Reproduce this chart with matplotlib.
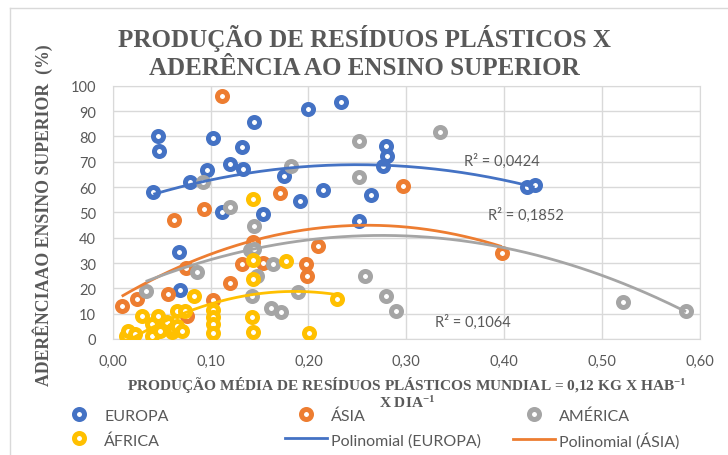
import matplotlib.pyplot as plt
import numpy as np
from matplotlib.lines import Line2D

# Produção de resíduos plásticos (kg/hab/dia) x aderência ao ensino superior (%)
europa_x = [0.0415, 0.0466, 0.0476, 0.0677, 0.0687, 0.079, 0.0966, 0.1027, 0.1112,
            0.1197, 0.1316, 0.1333, 0.1442, 0.1537, 0.175, 0.191, 0.1996, 0.2149,
            0.2337, 0.2513, 0.264, 0.276, 0.2796, 0.28, 0.4235, 0.431]
europa_y = [57.9, 80.3, 74.3, 34.2, 19.5, 61.9, 66.8, 79.2, 50.0,
            69.1, 75.7, 67.1, 85.5, 49.3, 64.5, 54.6, 90.8, 58.8,
            93.7, 46.7, 56.9, 68.2, 76.0, 72.1, 59.9, 60.8]

asia_x = [0.0092, 0.0251, 0.057, 0.0626, 0.0755, 0.0748, 0.0935, 0.1027, 0.1119,
          0.1197, 0.1316, 0.1435, 0.1537, 0.1707, 0.1973, 0.198, 0.2098, 0.2966, 0.3976]
asia_y = [13.2, 15.8, 17.8, 47.0, 9.2, 27.9, 51.3, 15.5, 96.1,
          22.0, 29.6, 38.2, 30.0, 57.6, 29.6, 24.8, 36.8, 60.3, 34.0]

america_x = [0.0337, 0.0857, 0.0925, 0.1197, 0.1405, 0.1442, 0.1442, 0.1428, 0.147,
             0.1622, 0.1639, 0.1717, 0.1826, 0.1888, 0.2513, 0.2513, 0.2574, 0.2796,
             0.289, 0.3347, 0.5217, 0.5857]
america_y = [19.1, 26.3, 62.1, 52.0, 35.0, 44.7, 35.5, 17.1, 24.8,
             12.1, 29.6, 10.8, 68.2, 18.4, 78.0, 64.1, 25.0, 17.1,
             11.2, 81.6, 14.5, 11.2]

africa_x = [0.014, 0.016, 0.023, 0.0296, 0.0398, 0.0398, 0.0466, 0.0483, 0.0551,
            0.0602, 0.062, 0.0653, 0.0653, 0.0704, 0.0738, 0.0833, 0.1027, 0.1027,
            0.1027, 0.1027, 0.1428, 0.1435, 0.1435, 0.1435, 0.1435, 0.1768, 0.2006, 0.2292]
africa_y = [1.3, 3.2, 2.0, 9.2, 5.9, 1.3, 9.2, 3.3, 6.6,
            2.6, 3.9, 11.2, 5.3, 3.3, 11.2, 17.1, 11.5, 8.5,
            5.9, 2.3, 8.6, 2.9, 23.7, 31.3, 55.3, 30.9, 2.2, 15.8]

series = [
    ("EUROPA", europa_x, europa_y, "#4472C4"),
    ("ÁSIA", asia_x, asia_y, "#ED7D31"),
    ("AMÉRICA", america_x, america_y, "#A5A5A5"),
    ("ÁFRICA", africa_x, africa_y, "#FFC000"),
]
r2_labels = ["R² = 0,0424", "R² = 0,1852", "R² = 0,1064"]

grey_txt = "#595959"
sans = ["Lato", "DejaVu Sans"]
serif = ["Liberation Serif", "DejaVu Serif"]
plt.rcParams["mathtext.default"] = "regular"

fig = plt.figure(figsize=(7.28, 4.56), dpi=100)
ax = fig.add_axes([112.7 / 728, 1 - 340 / 456, (700 - 112.7) / 728, (340 - 86.7) / 456])

# pontos (anel colorido com centro branco)
for name, xs, ys, col in series:
    ax.scatter(xs, ys, s=52, facecolor="white", edgecolor=col, linewidths=3.6, zorder=3)

# linhas de tendência polinomiais (ordem 2)
for name, xs, ys, col in series:
    coef = np.polyfit(xs, ys, 2)
    xx = np.linspace(min(xs), max(xs), 200)
    ax.plot(xx, np.polyval(coef, xx), color=col, lw=2, zorder=4, solid_capstyle="butt")

ax.text(0.3585, 70.7, r2_labels[0], color=grey_txt, fontsize=10.5, family=sans, va="center")
ax.text(0.383, 49.3, r2_labels[1], color=grey_txt, fontsize=10.5, family=sans, va="center")
ax.text(0.329, 7.1, r2_labels[2], color=grey_txt, fontsize=10.5, family=sans, va="center")

ax.set_xlim(0, 0.6)
ax.set_ylim(0, 100)
ax.set_xticks(np.arange(0, 0.61, 0.1))
ax.set_yticks(np.arange(0, 101, 10))
ax.set_xticklabels([f"{v:.2f}".replace(".", ",") for v in np.arange(0, 0.61, 0.1)])
ax.grid(True, color="#D9D9D9", lw=1)
ax.set_axisbelow(True)
for sp in ax.spines.values():
    sp.set_color("#D9D9D9")
ax.tick_params(length=0, colors=grey_txt, labelsize=10.5)
ax.tick_params(axis="y", pad=12)
ax.tick_params(axis="x", pad=11)
for lab in ax.get_xticklabels() + ax.get_yticklabels():
    lab.set_family(sans)

fig.text(0.501, 1 - 52.5 / 456, "PRODUÇÃO DE RESÍDUOS PLÁSTICOS X\nADERÊNCIA AO ENSINO SUPERIOR",
         ha="center", va="center", fontsize=18, fontweight="bold", family=serif,
         color=grey_txt, linespacing=1.3)
fig.text(407 / 728, 1 - 385 / 456,
         "PRODUÇÃO MÉDIA DE RESÍDUOS PLÁSTICOS MUNDIAL = 0,12 KG X HAB$^{-1}$",
         ha="center", va="center", fontsize=11.1, fontweight="bold", family=serif, color=grey_txt)
fig.text(407 / 728, 1 - 403 / 456, "X DIA$^{-1}$",
         ha="center", va="center", fontsize=11.1, fontweight="bold", family=serif, color=grey_txt)
fig.text(43 / 728, 1 - 215 / 456, "ADERÊNCIAAO ENSINO SUPERIOR  (%)", rotation=90,
         ha="center", va="center", fontsize=12.8, fontweight="bold", family=serif, color=grey_txt)

# borda do gráfico
fig.add_artist(Line2D([10 / 728, 10 / 728], [0, 1 - 9 / 456], color="#D9D9D9", lw=1))
fig.add_artist(Line2D([10 / 728, 1], [1 - 9 / 456, 1 - 9 / 456], color="#D9D9D9", lw=1))

# legenda em três colunas
def ring(col):
    return Line2D([], [], ls="none", marker="o", ms=7.2, mew=3.6, mfc="white", mec=col)

columns = [
    ([ring("#4472C4"), ring("#FFC000")], ["EUROPA", "ÁFRICA"], 58),
    ([ring("#ED7D31"), Line2D([], [], color="#4472C4", lw=2)], ["ÁSIA", "Polinomial (EUROPA)"], 285),
    ([ring("#A5A5A5"), Line2D([], [], color="#ED7D31", lw=2)], ["AMÉRICA", "Polinomial (ÁSIA)"], 513),
]
for handles, labels, x0 in columns:
    leg = fig.legend(handles, labels, loc="upper left", bbox_to_anchor=(x0 / 728, 1 - 408 / 456),
                     frameon=False, handlelength=2.6, handleheight=1.1, handletextpad=0.3,
                     labelspacing=0.55, borderpad=0, borderaxespad=0,
                     prop={"family": sans, "size": 11.5})
    for t in leg.get_texts():
        t.set_color(grey_txt)

fig.savefig("out.png", dpi=100)
